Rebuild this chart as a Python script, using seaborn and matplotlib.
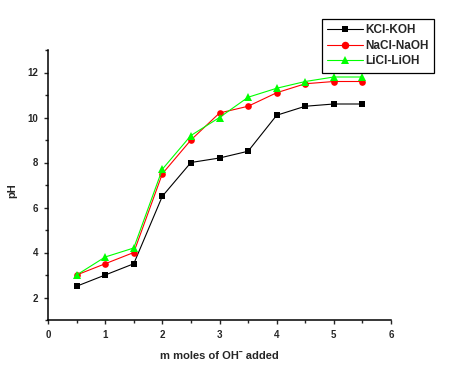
import matplotlib
matplotlib.use("Agg")
import matplotlib.pyplot as plt
import pandas as pd
import seaborn as sns
from matplotlib.ticker import MultipleLocator

# data
oh_added = [0.5, 1.0, 1.5, 2.0, 2.5, 3.0, 3.5, 4.0, 4.5, 5.0, 5.5]
ph_kcl = [2.5, 3.0, 3.5, 6.5, 8.0, 8.2, 8.5, 10.1, 10.5, 10.6, 10.6]
ph_nacl = [3.0, 3.5, 4.0, 7.5, 9.0, 10.2, 10.5, 11.1, 11.5, 11.6, 11.6]
ph_licl = [3.0, 3.8, 4.2, 7.7, 9.2, 10.0, 10.9, 11.3, 11.6, 11.8, 11.8]
series_names = ["KCl-KOH", "NaCl-NaOH", "LiCl-LiOH"]
series_colors = ["#000000", "#ff0000", "#00ff00"]
series_markers = ["s", "o", "^"]
marker_sizes = [4.3, 4.8, 5.3]

frames = []
for name, vals in zip(series_names, [ph_kcl, ph_nacl, ph_licl]):
    frames.append(pd.DataFrame({"oh": oh_added, "pH": vals, "system": name}))
df = pd.concat(frames, ignore_index=True)

sns.set_style("ticks")
plt.rcParams["font.family"] = ["Liberation Sans", "DejaVu Sans"]
plt.rcParams["font.weight"] = "bold"

fig = plt.figure(figsize=(4.58, 3.69), dpi=100)
ax = fig.add_axes([48 / 458, 49 / 369, 343 / 458, 270 / 369])

for name, color, marker, ms in zip(series_names, series_colors, series_markers, marker_sizes):
    sns.lineplot(
        data=df[df["system"] == name], x="oh", y="pH",
        color=color, marker=marker, markersize=ms, linewidth=0.8,
        markeredgewidth=0, ax=ax, legend=False,
    )

ax.set_xlim(0, 6)
ax.set_ylim(1, 13)
ax.xaxis.set_major_locator(MultipleLocator(1))
ax.xaxis.set_minor_locator(MultipleLocator(0.5))
ax.yaxis.set_minor_locator(MultipleLocator(1))
ax.set_yticks([2, 4, 6, 8, 10, 12])
ax.tick_params(which="major", direction="out", length=3, width=1, labelsize=7, pad=4)
ax.tick_params(which="minor", direction="out", length=2, width=1)
for lbl in ax.get_xticklabels() + ax.get_yticklabels():
    lbl.set_fontweight("bold")

sns.despine(ax=ax)
for side in ["left", "bottom"]:
    ax.spines[side].set_linewidth(1.1)
    ax.spines[side].set_color("black")

ax.set_xlabel("m moles of OH\u02c9 added", fontsize=8, fontweight="bold", va="center")
ax.set_ylabel("pH", fontsize=8, fontweight="bold", va="center")
ax.xaxis.set_label_coords(0.5, -36 / 270)
ax.yaxis.set_label_coords(-36 / 343, 0.48)

handles = [
    plt.Line2D([], [], color=c, marker=m, markersize=ms + 0.6, markeredgewidth=0, linewidth=0.8)
    for c, m, ms in zip(series_colors, series_markers, marker_sizes)
]
leg = fig.legend(
    handles, series_names, loc="upper left",
    bbox_to_anchor=(322 / 458, 1 - 19 / 369), bbox_transform=fig.transFigure,
    frameon=True, fancybox=False, edgecolor="black", framealpha=1,
    prop={"size": 8.5, "weight": "bold"}, handlelength=3.0, handletextpad=0.25,
    borderpad=0.45, labelspacing=0.3, borderaxespad=0,
)
leg.get_frame().set_linewidth(0.9)

fig.savefig("out.png", dpi=100)
